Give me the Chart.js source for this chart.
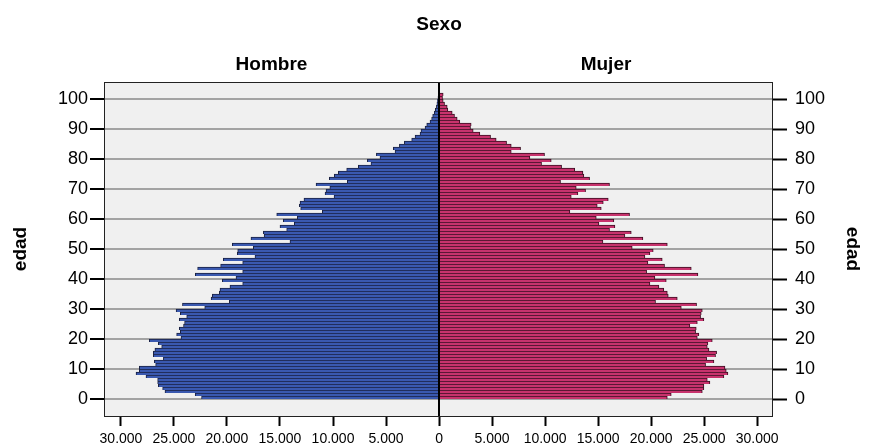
<!DOCTYPE html>
<html>
<head>
<meta charset="utf-8">
<script src="https://cdn.jsdelivr.net/npm/chart.js@4.4.1/dist/chart.umd.min.js"></script>
<style>
  html, body { margin: 0; padding: 0; background: #fff; }
  #c { display: block; }
</style>
</head>
<body>
<canvas id="c" width="870" height="447"></canvas>
<script>
// edades simples 0..101
var edades = [];
for (var i = 0; i <= 101; i++) edades.push(i);

var hombres = [
  22400, 23000, 25850, 26070, 26480, 26540, 26540, 27640, 28580, 28270,
  28270, 26730, 26860, 26000, 26950, 26950, 26800, 26160, 26480, 27330,
  24340, 24750, 24400, 24500, 24100, 24000, 24500, 23800, 24400, 24800,
  22100, 24200, 19780, 21500, 21380, 20720, 20660, 19720, 18520, 20440,
  19150, 22990, 18520, 22770, 20600, 18520, 20350, 17360, 19030, 18990,
  17520, 19500, 14060, 17740, 16500, 16570, 14370, 15000, 13650, 14690,
  13370, 15310, 11010, 13050, 13180, 13110, 12740, 9900, 10750, 10660,
  10300, 11600, 8650, 10350, 9880, 9500, 8710, 7610, 6420, 6760,
  5570, 5910, 4150, 4310, 3740, 3270, 2580, 2260, 1790, 1700,
  1320, 1160, 850, 700, 600, 450, 350, 250, 200, 150,
  100, 60
];

var mujeres = [
  21530, 21900, 24830, 24980, 24980, 25550, 25300, 26870, 27250, 27090,
  26970, 25140, 25930, 25240, 26080, 26180, 25460, 25300, 25360, 25770,
  24360, 24510, 24200, 24260, 23660, 24360, 24980, 24670, 24730, 24830,
  22850, 24290, 20420, 22470, 21620, 21530, 21200, 20740, 19890, 21430,
  20360, 24420, 19580, 23790, 21270, 19700, 21050, 19420, 19890, 20200,
  18220, 21530, 15460, 19230, 17530, 18130, 16080, 16590, 15080, 16490,
  14830, 17970, 12340, 15300, 14920, 15490, 15960, 12470, 13100, 13820,
  12940, 16080, 11460, 14200, 13660, 13570, 12800, 11560, 9670, 10580,
  8570, 9950, 6810, 7690, 6810, 6370, 5390, 4860, 3850, 3220,
  2970, 3030, 1960, 1710, 1460, 1240, 830, 770, 520, 390,
  330, 390
];

var ticksEdad = [0, 10, 20, 30, 40, 50, 60, 70, 80, 90, 100];
var ticksPersonas = [-30000, -25000, -20000, -15000, -10000, -5000, 0, 5000, 10000, 15000, 20000, 25000, 30000];

var titulo = 'Sexo';
var grupos = ['Hombre', 'Mujer'];
var tituloEje = 'edad';

var FUENTE = "'Liberation Sans', Arial, Helvetica, sans-serif";

function miles(n) {
  return String(n).replace(/\B(?=(\d{3})+(?!\d))/g, '.');
}

var datosH = edades.map(function(e, i) { return {x: -hombres[i], y: e + 0.5}; });
var datosM = edades.map(function(e, i) { return {x: mujeres[i], y: e + 0.5}; });

var marco = {
  id: 'marco',
  beforeDraw: function(chart) {
    var ctx = chart.ctx, a = chart.chartArea;
    ctx.save();
    ctx.fillStyle = '#ffffff';
    ctx.fillRect(0, 0, chart.width, chart.height);
    ctx.fillStyle = '#f0f0f0';
    ctx.fillRect(a.left, a.top, a.right - a.left, a.bottom - a.top);
    ctx.restore();
  },
  afterDatasetsDraw: function(chart) {
    var ctx = chart.ctx, a = chart.chartArea;
    var x0 = Math.round(chart.scales.x.getPixelForValue(0));
    ctx.save();
    ctx.strokeStyle = '#000';
    ctx.lineWidth = 2;
    ctx.beginPath();
    ctx.moveTo(x0, a.top);
    ctx.lineTo(x0, a.bottom);
    ctx.stroke();
    ctx.lineWidth = 1;
    ctx.strokeStyle = '#222';
    ctx.strokeRect(a.left + 0.5, a.top + 0.5, a.right - a.left - 1, a.bottom - a.top);
    ctx.restore();
  },
  afterDraw: function(chart) {
    var ctx = chart.ctx, a = chart.chartArea, sx = chart.scales.x;
    var x0 = sx.getPixelForValue(0);
    ctx.save();
    ctx.fillStyle = '#000';
    ctx.font = 'bold 19px ' + FUENTE;
    ctx.textAlign = 'center';
    ctx.textBaseline = 'middle';
    ctx.fillText(titulo, x0, 25);
    ctx.fillText(grupos[0], (a.left + x0) / 2, 65);
    ctx.fillText(grupos[1], (a.right + x0) / 2, 65);
    ctx.restore();
  }
};

new Chart(document.getElementById('c'), {
  type: 'bar',
  data: {
    datasets: [
      {
        label: grupos[0],
        data: datosH,
        backgroundColor: '#3a59b0',
        borderColor: '#1a2142',
        borderWidth: {top: 1, left: 1, right: 1, bottom: 0}
      },
      {
        label: grupos[1],
        data: datosM,
        backgroundColor: '#c8336d',
        borderColor: '#3a0f22',
        borderWidth: {top: 1, left: 1, right: 1, bottom: 0}
      }
    ]
  },
  options: {
    responsive: false,
    animation: false,
    indexAxis: 'y',
    grouped: false,
    categoryPercentage: 1,
    barPercentage: 1,
    maxBarThickness: 3,
    layout: { padding: { top: 82, left: 0, right: 0, bottom: 0 } },
    plugins: {
      legend: { display: false },
      tooltip: { enabled: false }
    },
    scales: {
      x: {
        type: 'linear',
        min: -31600,
        max: 31500,
        afterBuildTicks: function(s) { s.ticks = ticksPersonas.map(function(v) { return {value: v}; }); },
        afterFit: function(s) { s.height = 31; },
        grid: { drawOnChartArea: false, tickLength: 10, tickWidth: 2, tickColor: '#000' },
        border: { display: false },
        ticks: {
          color: '#000',
          padding: 5,
          font: { family: FUENTE, size: 14 },
          maxRotation: 0,
          autoSkip: false,
          callback: function(v) { return miles(Math.abs(v)); }
        }
      },
      y: {
        type: 'linear',
        position: 'left',
        offset: false,
        min: -17 / 3,
        max: 100 + 17 / 3,
        afterBuildTicks: function(s) { s.ticks = ticksEdad.map(function(v) { return {value: v}; }); },
        afterFit: function(s) { s.width = 104; },
        grid: { offset: false, color: '#a3a3a3', lineWidth: 2, tickLength: 14, tickWidth: 2, tickColor: '#000' },
        border: { display: false },
        ticks: { color: '#000', padding: 2, font: { family: FUENTE, size: 18 } },
        title: { display: true, text: tituloEje, color: '#000', padding: { top: 9 }, font: { family: FUENTE, size: 19, weight: 'bold' } }
      },
      y2: {
        type: 'linear',
        position: 'right',
        offset: false,
        min: -17 / 3,
        max: 100 + 17 / 3,
        afterBuildTicks: function(s) { s.ticks = ticksEdad.map(function(v) { return {value: v}; }); },
        afterFit: function(s) { s.width = 97; },
        grid: { offset: false, drawOnChartArea: false, tickLength: 14, tickWidth: 2, tickColor: '#000' },
        border: { display: false },
        ticks: { color: '#000', padding: 8, font: { family: FUENTE, size: 18 } },
        title: { display: true, text: tituloEje, color: '#000', padding: { top: 6 }, font: { family: FUENTE, size: 19, weight: 'bold' } }
      }
    }
  },
  plugins: [marco]
});
</script>
</body>
</html>
